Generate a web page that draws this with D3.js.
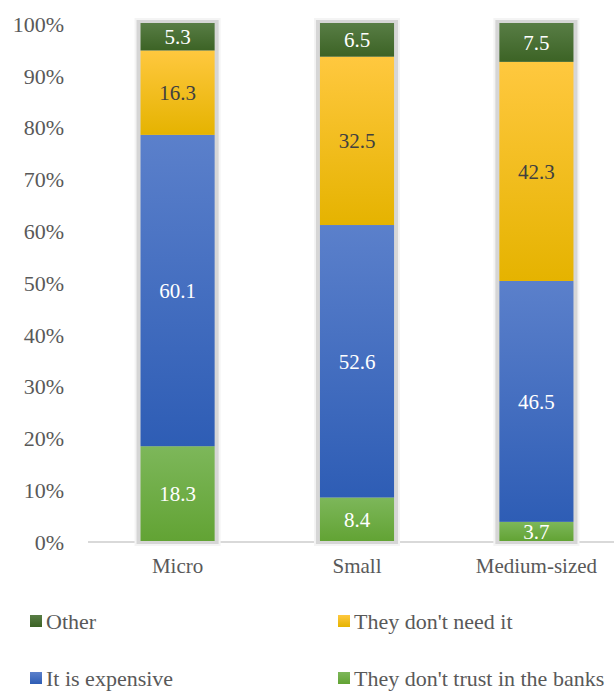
<!DOCTYPE html>
<html><head><meta charset="utf-8">
<script src="https://cdn.jsdelivr.net/npm/d3@7/dist/d3.min.js"></script>
<style>body{margin:0;background:#fff}svg{display:block}</style>
</head><body>
<svg id="c" width="614" height="691"></svg>
<script>
const categories = ["Micro", "Small", "Medium-sized"];
const seriesNames = ["They don't trust in the banks", "It is expensive", "They don't need it", "Other"];
const trustVals = [18.3, 8.4, 3.7];
const expensiveVals = [60.1, 52.6, 46.5];
const needVals = [16.3, 32.5, 42.3];
const otherVals = [5.3, 6.5, 7.5];
const yTicks = [0, 10, 20, 30, 40, 50, 60, 70, 80, 90, 100];

const seriesVals = [trustVals, expensiveVals, needVals, otherVals];
const colors = [
  ["#7db75a", "#62a334"],
  ["#5b80cb", "#2e5db5"],
  ["#ffc83f", "#e5b300"],
  ["#587d45", "#3c6325"]
];
const labelColors = ["#ffffff", "#ffffff", "#404040", "#ffffff"];

const svg = d3.select("#c");
const font = "'Liberation Serif','Times New Roman',serif";

const defs = svg.append("defs");
colors.forEach((c, i) => {
  const g = defs.append("linearGradient").attr("id", "g" + i)
    .attr("x1", 0).attr("y1", 0).attr("x2", 0).attr("y2", 1);
  g.append("stop").attr("offset", "0%").attr("stop-color", c[0]);
  g.append("stop").attr("offset", "100%").attr("stop-color", c[1]);
});

const y = d3.scaleLinear().domain([0, 100]).range([541, 23]);
const x = d3.scaleBand().domain(categories).range([88.5, 625.5]).paddingInner(0.587).paddingOuter(0.29);

const rows = categories.map((c, ci) => {
  let acc = 0;
  return seriesVals.map((s, si) => {
    const v = s[ci];
    const r = { cat: c, si, v, y0: acc, y1: acc + v };
    acc += v;
    return r;
  });
});

// baseline
svg.append("line").attr("x1", 88).attr("x2", 614).attr("y1", y(0) + 1).attr("y2", y(0) + 1)
  .attr("stroke", "#d9d9d9").attr("stroke-width", 2);

// shadows
const bw = x.bandwidth();
categories.forEach(c => {
  svg.append("rect").attr("x", x(c) - 6).attr("y", y(100) - 5).attr("width", bw + 12).attr("height", y(0) - y(100) + 10)
    .attr("fill", "#f4f4f4");
  svg.append("rect").attr("x", x(c) - 4).attr("y", y(100) - 3).attr("width", bw + 8).attr("height", y(0) - y(100) + 6)
    .attr("fill", "#d6d6d6");
});

// bars
rows.forEach(r => r.forEach(d => {
  svg.append("rect").attr("x", x(d.cat)).attr("y", y(d.y1)).attr("width", bw)
    .attr("height", y(d.y0) - y(d.y1)).attr("fill", `url(#g${d.si})`);
}));

// labels
rows.forEach(r => r.forEach(d => {
  svg.append("text").attr("x", x(d.cat) + bw / 2).attr("y", (y(d.y0) + y(d.y1)) / 2)
    .attr("dy", "0.35em").attr("text-anchor", "middle")
    .attr("font-family", font).attr("font-size", 21).attr("fill", labelColors[d.si])
    .text(d.v.toFixed(1));
}));

// y axis labels
yTicks.forEach(t => {
  svg.append("text").attr("x", 64).attr("y", y(t) + 1).attr("dy", "0.35em").attr("text-anchor", "end")
    .attr("font-family", font).attr("font-size", 22).attr("fill", "#595959").text(t + "%");
});

// x labels
categories.forEach(c => {
  svg.append("text").attr("x", x(c) + bw / 2).attr("y", 566).attr("dy", "0.35em").attr("text-anchor", "middle")
    .attr("font-family", font).attr("font-size", 21).attr("fill", "#595959").text(c);
});

// legend
const legend = [
  { si: 3, x: 30, y: 621 },
  { si: 2, x: 338, y: 621 },
  { si: 1, x: 30, y: 678 },
  { si: 0, x: 338, y: 678 }
];
legend.forEach(l => {
  svg.append("rect").attr("x", l.x).attr("y", l.y - 6).attr("width", 12).attr("height", 12)
    .attr("fill", `url(#g${l.si})`);
  svg.append("text").attr("x", l.x + 16).attr("y", l.y).attr("dy", "0.35em")
    .attr("font-family", font).attr("font-size", 22).attr("fill", "#595959").text(seriesNames[l.si]);
});
</script>
</body></html>
